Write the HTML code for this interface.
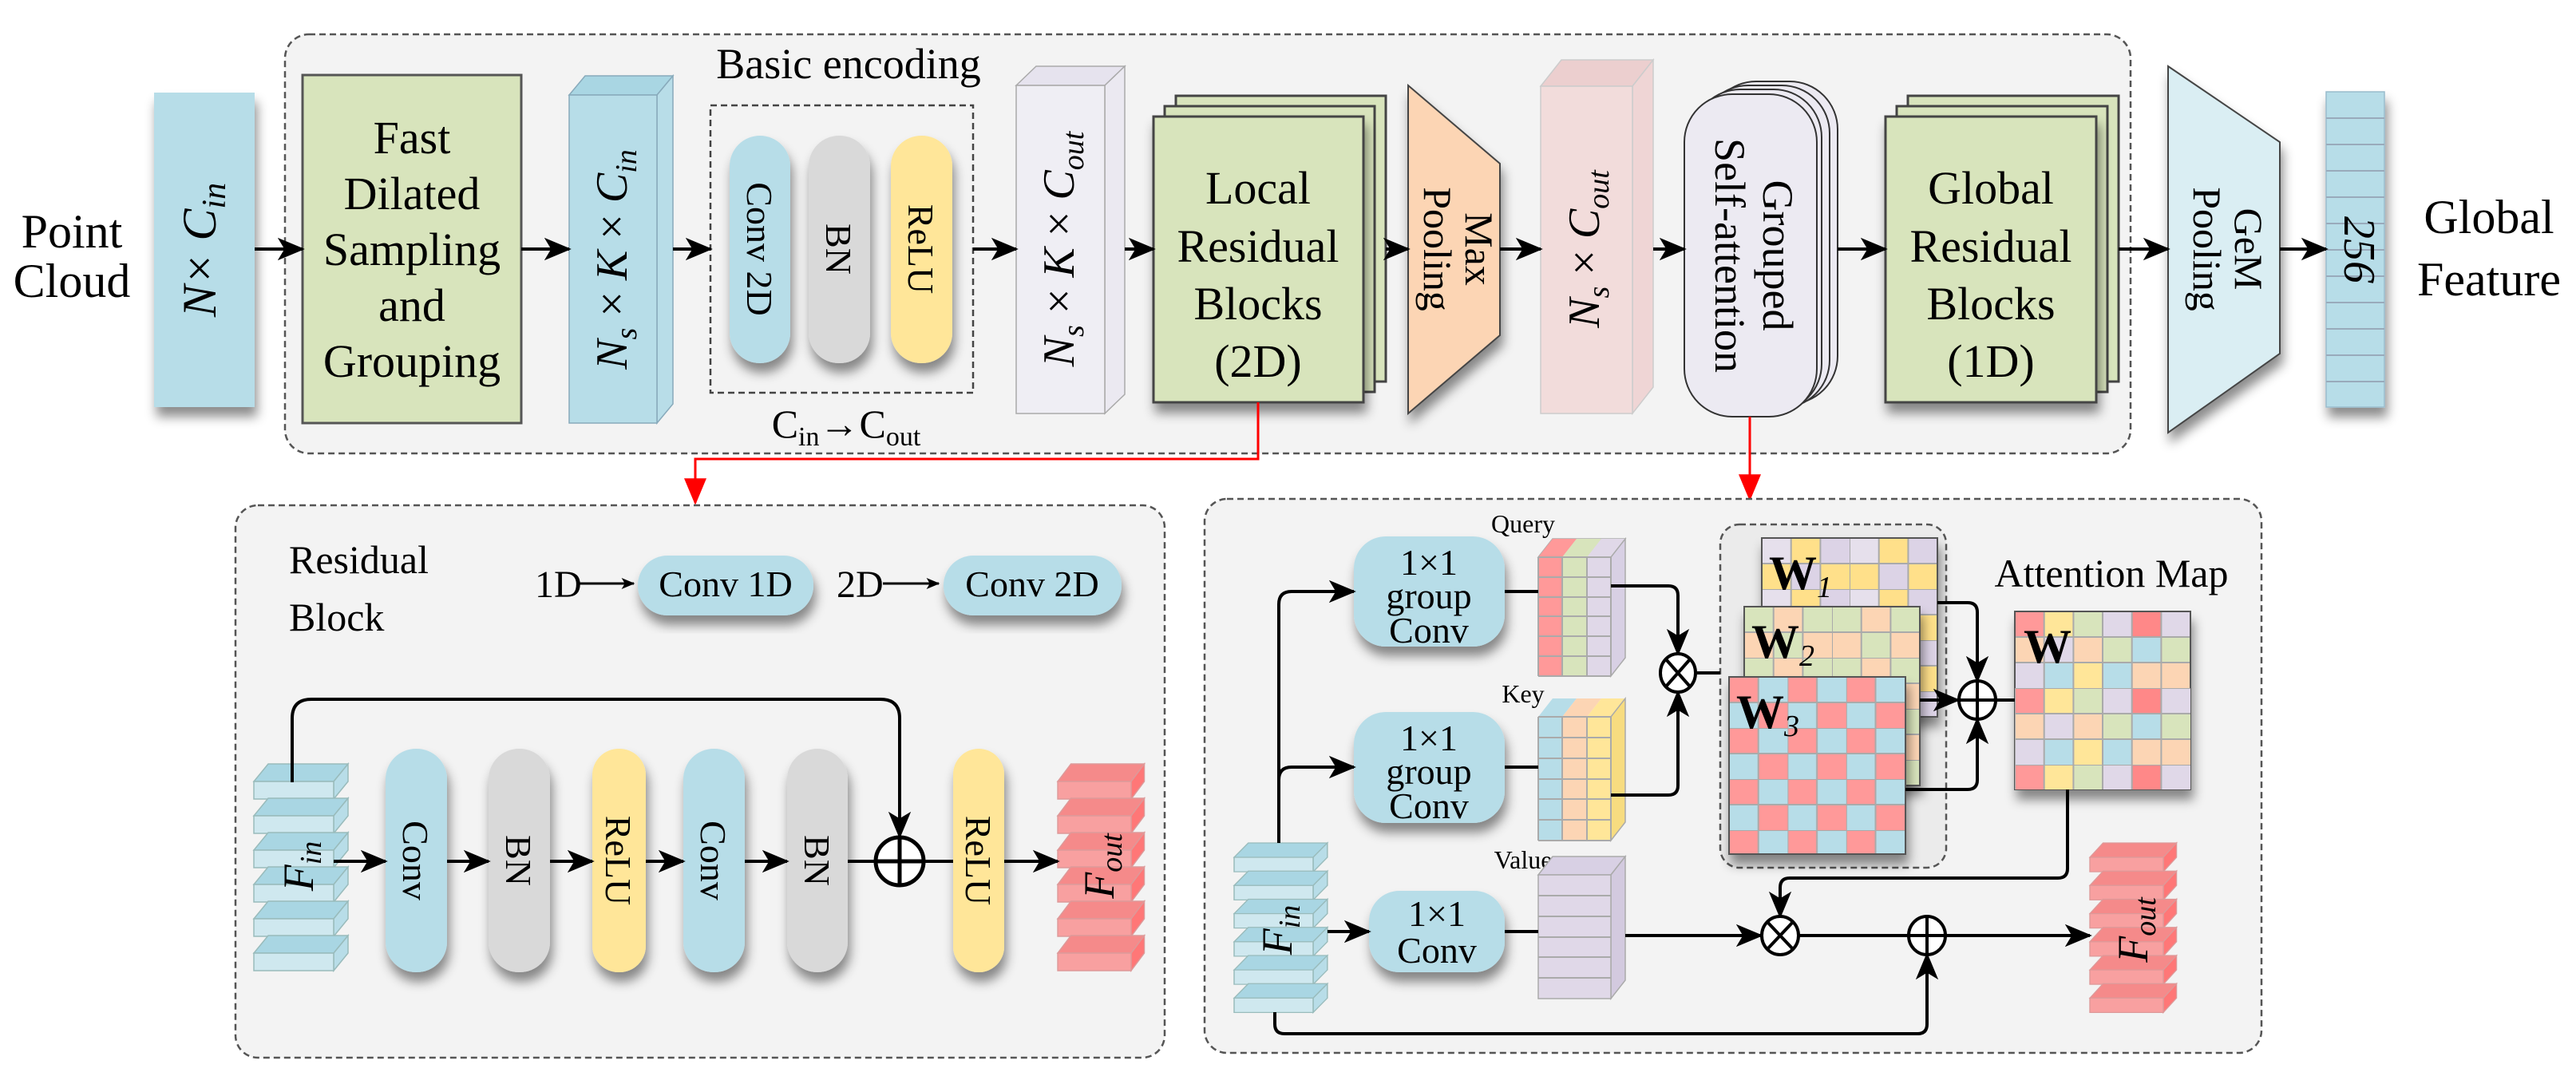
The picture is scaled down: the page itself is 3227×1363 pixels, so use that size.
<!DOCTYPE html>
<html><head><meta charset="utf-8"><style>
html,body{margin:0;padding:0;background:#fff;}
svg{display:block;}
svg text{font-family:"Liberation Serif","Times New Roman",serif;}
</style></head><body>
<svg width="3227" height="1363" viewBox="0 0 3227 1363" xmlns="http://www.w3.org/2000/svg" font-family="Liberation Serif, serif">
<style>text{font-family:"Liberation Serif","Times New Roman",serif;}</style>
<defs>
<filter id="sh" x="-30%" y="-30%" width="160%" height="160%"><feDropShadow dx="3" dy="12" stdDeviation="7" flood-color="#000" flood-opacity="0.45"/></filter>
<marker id="ar" viewBox="0 0 12 10" refX="11" refY="5" markerWidth="34" markerHeight="30" markerUnits="userSpaceOnUse" orient="auto"><path d="M0,0 L12,5 L0,10 L3,5 z" fill="#000"/></marker>
<marker id="ars" viewBox="0 0 12 10" refX="11" refY="5" markerWidth="24" markerHeight="14" markerUnits="userSpaceOnUse" orient="auto"><path d="M0,0 L12,5 L0,10 L3,5 z" fill="#000"/></marker>
<marker id="arr" viewBox="0 0 12 10" refX="11" refY="5" markerWidth="40" markerHeight="28" markerUnits="userSpaceOnUse" orient="auto"><path d="M0,0 L12,5 L0,10 z" fill="#f00"/></marker>
<g id="slabB">
 <polygon points="0,22 18,0 118,0 100,22" fill="#a9d6e3" stroke="#9bb" stroke-width="1.5"/>
 <polygon points="100,22 118,0 118,22 100,44" fill="#b8dde8" stroke="#9bb" stroke-width="1.5"/>
 <rect x="0" y="22" width="100" height="22" fill="#cfe8ef" stroke="#9bb" stroke-width="1.5"/>
</g>
<g id="stackB">
 <use href="#slabB"/><use href="#slabB" y="43"/><use href="#slabB" y="86"/><use href="#slabB" y="129"/><use href="#slabB" y="172"/><use href="#slabB" y="215"/>
</g>
<g id="slabR">
 <polygon points="0,22 18,0 118,0 100,22" fill="#f58a8a" stroke="#d99" stroke-width="1.5"/>
 <polygon points="100,22 118,0 118,22 100,44" fill="#f77" stroke="#d99" stroke-width="1.5"/>
 <rect x="0" y="22" width="100" height="22" fill="#f8a0a0" stroke="#d99" stroke-width="1.5"/>
</g>
<g id="stackR">
 <use href="#slabR"/><use href="#slabR" y="43"/><use href="#slabR" y="86"/><use href="#slabR" y="129"/><use href="#slabR" y="172"/><use href="#slabR" y="215"/>
</g>
<pattern id="p1" patternUnits="userSpaceOnUse" x="2207" y="674" width="110" height="64">
 <rect width="36.7" height="32" fill="#e6e0ec"/><rect x="36.7" width="36.7" height="32" fill="#ffe08a"/><rect x="73.4" width="36.6" height="32" fill="#dcd3e6"/>
 <rect y="32" width="36.7" height="32" fill="#ffe08a"/><rect x="36.7" y="32" width="36.7" height="32" fill="#dcd3e6"/><rect x="73.4" y="32" width="36.6" height="32" fill="#ffe08a"/>
 <path d="M0,0H110M0,32H110M0,0V64M36.7,0V64M73.4,0V64" stroke="#aaa" stroke-width="2" fill="none"/>
</pattern>
<pattern id="p2" patternUnits="userSpaceOnUse" x="2185" y="760" width="110" height="64">
 <rect width="36.7" height="32" fill="#d8e4bc"/><rect x="36.7" width="36.7" height="32" fill="#fcd5b4"/><rect x="73.4" width="36.6" height="32" fill="#d8e4bc"/>
 <rect y="32" width="36.7" height="32" fill="#fcd5b4"/><rect x="36.7" y="32" width="36.7" height="32" fill="#d8e4bc"/><rect x="73.4" y="32" width="36.6" height="32" fill="#fcd5b4"/>
 <path d="M0,0H110M0,32H110M0,0V64M36.7,0V64M73.4,0V64" stroke="#aaa" stroke-width="2" fill="none"/>
</pattern>
<pattern id="p3" patternUnits="userSpaceOnUse" x="2166" y="848" width="73.4" height="64">
 <rect width="36.7" height="32" fill="#f99"/><rect x="36.7" width="36.7" height="32" fill="#b7dde8"/>
 <rect y="32" width="36.7" height="32" fill="#b7dde8"/><rect x="36.7" y="32" width="36.7" height="32" fill="#f99"/>
 <path d="M0,0H73.4M0,32H73.4M0,0V64M36.7,0V64" stroke="#aaa" stroke-width="2" fill="none"/>
</pattern>
<pattern id="pw" patternUnits="userSpaceOnUse" x="2524" y="766" width="220" height="96">
 <rect width="36.7" height="32" fill="#f99"/><rect x="36.7" width="36.7" height="32" fill="#ffe699"/><rect x="73.4" width="36.7" height="32" fill="#d8e4bc"/><rect x="110" width="36.7" height="32" fill="#e0d8e8"/><rect x="146.7" width="36.7" height="32" fill="#f88"/><rect x="183.4" width="36.6" height="32" fill="#e0d8e8"/>
 <rect y="32" width="36.7" height="32" fill="#fcd5b4"/><rect x="36.7" y="32" width="36.7" height="32" fill="#e0d8e8"/><rect x="73.4" y="32" width="36.7" height="32" fill="#fcd5b4"/><rect x="110" y="32" width="36.7" height="32" fill="#d8e4bc"/><rect x="146.7" y="32" width="36.7" height="32" fill="#b7dde8"/><rect x="183.4" y="32" width="36.6" height="32" fill="#d8e4bc"/>
 <rect y="64" width="36.7" height="32" fill="#e0d8e8"/><rect x="36.7" y="64" width="36.7" height="32" fill="#b7dde8"/><rect x="73.4" y="64" width="36.7" height="32" fill="#ffe699"/><rect x="110" y="64" width="36.7" height="32" fill="#b7dde8"/><rect x="146.7" y="64" width="36.7" height="32" fill="#fcd5b4"/><rect x="183.4" y="64" width="36.6" height="32" fill="#fcd5b4"/>
 <path d="M0,0H220M0,32H220M0,64H220M0,0V96M36.7,0V96M73.4,0V96M110,0V96M146.7,0V96M183.4,0V96" stroke="#aaa" stroke-width="2" fill="none"/>
</pattern>
</defs>

<!-- ===== top panel ===== -->
<rect x="357" y="43" width="2312" height="525" rx="30" fill="#f3f3f3" stroke="#555" stroke-width="2.5" stroke-dasharray="8,5"/>
<text x="90" y="310" font-size="60" text-anchor="middle">Point</text>
<text x="90" y="372" font-size="60" text-anchor="middle">Cloud</text>
<rect x="193" y="116" width="126" height="394" fill="#b7dde8" filter="url(#sh)"/>
<text transform="translate(270,313) rotate(-90)" font-size="60" text-anchor="middle" font-style="italic">N× C<tspan font-size="42" dy="12">in</tspan></text>

<rect x="379" y="94" width="274" height="436" fill="#d8e4bc" stroke="#555" stroke-width="3"/>
<g font-size="58" text-anchor="middle"><text x="516" y="192">Fast</text><text x="516" y="262">Dilated</text><text x="516" y="332">Sampling</text><text x="516" y="402">and</text><text x="516" y="472">Grouping</text></g>

<polygon points="713,119 733,95 843,95 823,119" fill="#a9d6e3" stroke="#8ab" stroke-width="1.5"/>
<polygon points="823,119 843,95 843,506 823,530" fill="#b8dde8" stroke="#8ab" stroke-width="1.5"/>
<rect x="713" y="119" width="110" height="411" fill="#b7dde8" stroke="#8ab" stroke-width="1.5"/>
<text transform="translate(785,325) rotate(-90)" font-size="56" text-anchor="middle" font-style="italic">N<tspan font-size="38" dy="12">s</tspan><tspan dy="-12" font-style="normal"> × </tspan>K<tspan font-style="normal"> × </tspan>C<tspan font-size="38" dy="12">in</tspan></text>

<text x="1063" y="98" font-size="54" text-anchor="middle">Basic encoding</text>
<rect x="890" y="132" width="329" height="360" fill="none" stroke="#444" stroke-width="2.5" stroke-dasharray="8,5"/>
<rect x="914" y="170" width="76" height="285" rx="38" fill="#b7dde8" filter="url(#sh)"/>
<rect x="1013" y="170" width="77" height="285" rx="38" fill="#d9d9d9" filter="url(#sh)"/>
<rect x="1116" y="170" width="77" height="285" rx="38" fill="#ffe699" filter="url(#sh)"/>
<g font-size="46" text-anchor="middle"><text transform="translate(936,312) rotate(90)">Conv 2D</text><text transform="translate(1035,312) rotate(90)">BN</text><text transform="translate(1138,312) rotate(90)">ReLU</text></g>
<text x="1060" y="548" font-size="50" text-anchor="middle">C<tspan font-size="34" dy="10">in</tspan><tspan dy="-10">→</tspan>C<tspan font-size="34" dy="10">out</tspan></text>

<polygon points="1273,107 1298,83 1409,83 1384,107" fill="#e6e3ee" stroke="#aaa" stroke-width="1.5"/>
<polygon points="1384,107 1409,83 1409,494 1384,518" fill="#ebe9f1" stroke="#aaa" stroke-width="1.5"/>
<rect x="1273" y="107" width="111" height="411" fill="#efeef4" stroke="#aaa" stroke-width="1.5"/>
<text transform="translate(1345,312) rotate(-90)" font-size="56" text-anchor="middle" font-style="italic">N<tspan font-size="38" dy="12">s</tspan><tspan dy="-12" font-style="normal"> × </tspan>K<tspan font-style="normal"> × </tspan>C<tspan font-size="38" dy="12">out</tspan></text>

<rect x="1473" y="120" width="263" height="358" fill="#d8e4bc" stroke="#444" stroke-width="3"/>
<rect x="1459" y="133" width="263" height="358" fill="#d8e4bc" stroke="#444" stroke-width="3"/>
<rect x="1445" y="146" width="263" height="358" fill="#d8e4bc" stroke="#444" stroke-width="3" filter="url(#sh)"/>
<g font-size="58" text-anchor="middle"><text x="1576" y="255">Local</text><text x="1576" y="328">Residual</text><text x="1576" y="400">Blocks</text><text x="1576" y="472">(2D)</text></g>

<polygon points="1764,107 1879,205 1879,420 1764,518" fill="#fcd5b4" stroke="#444" stroke-width="2" filter="url(#sh)"/>
<text transform="translate(1822,312) rotate(90)" font-size="50" text-anchor="middle"><tspan x="0" dy="-14">Max</tspan><tspan x="0" dy="52">Pooling</tspan></text>

<polygon points="1930,108 1956,75 2071,75 2045,108" fill="#eccfcf" stroke="#ccc" stroke-width="1.5"/>
<polygon points="2045,108 2071,75 2071,485 2045,518" fill="#efd5d5" stroke="#ccc" stroke-width="1.5"/>
<rect x="1930" y="108" width="115" height="410" fill="#f2dcdb" stroke="#ccc" stroke-width="1.5"/>
<text transform="translate(2003,312) rotate(-90)" font-size="56" text-anchor="middle" font-style="italic">N<tspan font-size="38" dy="12">s</tspan><tspan dy="-12" font-style="normal"> × </tspan>C<tspan font-size="38" dy="12">out</tspan></text>

<rect x="2140" y="102" width="162" height="404" rx="60" fill="#eceaf2" stroke="#333" stroke-width="2"/>
<rect x="2130" y="107" width="162" height="404" rx="60" fill="#eceaf2" stroke="#333" stroke-width="2"/>
<rect x="2120" y="112" width="162" height="404" rx="60" fill="#eceaf2" stroke="#333" stroke-width="2"/>
<rect x="2110" y="118" width="166" height="404" rx="60" fill="#eceaf2" stroke="#333" stroke-width="2"/>
<text transform="translate(2193,320) rotate(90)" font-size="54" text-anchor="middle"><tspan x="0" dy="-16">Grouped</tspan><tspan x="0" dy="60">Self-attention</tspan></text>

<rect x="2390" y="120" width="264" height="358" fill="#d8e4bc" stroke="#444" stroke-width="3"/>
<rect x="2376" y="133" width="264" height="358" fill="#d8e4bc" stroke="#444" stroke-width="3"/>
<rect x="2362" y="146" width="264" height="358" fill="#d8e4bc" stroke="#444" stroke-width="3" filter="url(#sh)"/>
<g font-size="58" text-anchor="middle"><text x="2494" y="255">Global</text><text x="2494" y="328">Residual</text><text x="2494" y="400">Blocks</text><text x="2494" y="472">(1D)</text></g>

<polygon points="2716,83 2856,178 2856,443 2716,542" fill="#daeef3" stroke="#444" stroke-width="2" filter="url(#sh)"/>
<text transform="translate(2786,312) rotate(90)" font-size="50" text-anchor="middle"><tspan x="0" dy="-14">GeM</tspan><tspan x="0" dy="52">Pooling</tspan></text>

<rect x="2914" y="115" width="73" height="395" fill="#b7dde8" stroke="#9bc" stroke-width="1.5" filter="url(#sh)"/>
<path d="M2914,148H2987M2914,181H2987M2914,214H2987M2914,247H2987M2914,280H2987M2914,313H2987M2914,346H2987M2914,379H2987M2914,412H2987M2914,445H2987M2914,478H2987" stroke="#9ab" stroke-width="2"/>
<text transform="translate(2937,313) rotate(90)" font-size="56" text-anchor="middle" font-style="italic">256</text>
<text x="3118" y="292" font-size="60" text-anchor="middle">Global</text>
<text x="3118" y="370" font-size="60" text-anchor="middle">Feature</text>

<g stroke="#000" stroke-width="4" marker-end="url(#ar)">
<line x1="319" y1="312" x2="379" y2="312"/><line x1="653" y1="312" x2="713" y2="312"/>
<line x1="843" y1="312" x2="890" y2="312"/><line x1="1219" y1="312" x2="1273" y2="312"/>
<line x1="1409" y1="312" x2="1445" y2="312"/><line x1="1736" y1="312" x2="1764" y2="312"/>
<line x1="1879" y1="312" x2="1930" y2="312"/><line x1="2071" y1="312" x2="2110" y2="312"/>
<line x1="2302" y1="312" x2="2362" y2="312"/><line x1="2654" y1="312" x2="2716" y2="312"/>
<line x1="2856" y1="312" x2="2914" y2="312"/>
</g>
<polyline points="1576,504 1576,575 871,575 871,630" fill="none" stroke="#f00" stroke-width="3" marker-end="url(#arr)"/>
<line x1="2192" y1="522" x2="2192" y2="625" stroke="#f00" stroke-width="3" marker-end="url(#arr)"/>

<!-- ===== bottom left panel ===== -->
<rect x="295" y="633" width="1164" height="692" rx="28" fill="#f3f3f3" stroke="#555" stroke-width="2.5" stroke-dasharray="8,5"/>
<text x="362" y="718" font-size="50">Residual</text>
<text x="362" y="790" font-size="50">Block</text>
<text x="670" y="748" font-size="48">1D</text>
<line x1="726" y1="731" x2="794" y2="731" stroke="#000" stroke-width="3" marker-end="url(#ars)"/>
<rect x="799" y="696" width="220" height="75" rx="37" fill="#b7dde8" filter="url(#sh)"/>
<text x="909" y="747" font-size="46" text-anchor="middle">Conv 1D</text>
<text x="1048" y="748" font-size="48">2D</text>
<line x1="1106" y1="731" x2="1176" y2="731" stroke="#000" stroke-width="3" marker-end="url(#ars)"/>
<rect x="1182" y="696" width="223" height="75" rx="37" fill="#b7dde8" filter="url(#sh)"/>
<text x="1293" y="747" font-size="46" text-anchor="middle">Conv 2D</text>

<use href="#stackB" x="318" y="957"/>
<text transform="translate(392,1085) rotate(-90)" font-size="54" text-anchor="middle" font-style="italic">F<tspan font-size="38" dy="10">in</tspan></text>
<g filter="url(#sh)">
<rect x="483" y="938" width="77" height="280" rx="38" fill="#b7dde8"/>
<rect x="612" y="938" width="77" height="280" rx="38" fill="#d9d9d9"/>
<rect x="742" y="938" width="67" height="280" rx="33" fill="#ffe699"/>
<rect x="856" y="938" width="77" height="280" rx="38" fill="#b7dde8"/>
<rect x="986" y="938" width="76" height="280" rx="38" fill="#d9d9d9"/>
<rect x="1194" y="938" width="64" height="280" rx="32" fill="#ffe699"/>
</g>
<g font-size="46" text-anchor="middle">
<text transform="translate(505,1078) rotate(90)">Conv</text><text transform="translate(634,1078) rotate(90)">BN</text>
<text transform="translate(759,1078) rotate(90)">ReLU</text><text transform="translate(878,1078) rotate(90)">Conv</text>
<text transform="translate(1008,1078) rotate(90)">BN</text><text transform="translate(1210,1078) rotate(90)">ReLU</text>
</g>
<use href="#stackR" transform="translate(1325,957) scale(0.92,1)"/>
<text transform="translate(1395,1085) rotate(-90)" font-size="54" text-anchor="middle" font-style="italic">F<tspan font-size="38" dy="10">out</tspan></text>
<path d="M366,980 V900 Q366,876 390,876 H1103 Q1127,876 1127,900 V1048" fill="none" stroke="#000" stroke-width="4" marker-end="url(#ar)"/>
<g stroke="#000" stroke-width="4" marker-end="url(#ar)">
<line x1="418" y1="1079" x2="483" y2="1079"/><line x1="560" y1="1079" x2="612" y2="1079"/>
<line x1="689" y1="1079" x2="742" y2="1079"/><line x1="809" y1="1079" x2="856" y2="1079"/>
<line x1="933" y1="1079" x2="986" y2="1079"/><line x1="1258" y1="1079" x2="1325" y2="1079"/>
</g>
<line x1="1062" y1="1079" x2="1194" y2="1079" stroke="#000" stroke-width="4"/>
<circle cx="1127" cy="1079" r="30" fill="#fff" stroke="#000" stroke-width="5"/>
<path d="M1097,1079H1157M1127,1049V1109" stroke="#000" stroke-width="5"/>

<!-- ===== bottom right panel ===== -->
<rect x="1509" y="625" width="1324" height="694" rx="28" fill="#f3f3f3" stroke="#555" stroke-width="2.5" stroke-dasharray="8,5"/>
<rect x="1696" y="672" width="189" height="138" rx="40" fill="#b7dde8" filter="url(#sh)"/>
<rect x="1696" y="892" width="189" height="139" rx="40" fill="#b7dde8" filter="url(#sh)"/>
<g font-size="46" text-anchor="middle"><text x="1790" y="720">1×1</text><text x="1790" y="762">group</text><text x="1790" y="805">Conv</text>
<text x="1790" y="940">1×1</text><text x="1790" y="982">group</text><text x="1790" y="1025">Conv</text></g>
<rect x="1715" y="1116" width="170" height="102" rx="38" fill="#b7dde8" filter="url(#sh)"/>
<g font-size="46" text-anchor="middle"><text x="1800" y="1160">1×1</text><text x="1800" y="1206">Conv</text></g>
<g font-size="32" text-anchor="middle"><text x="1908" y="667">Query</text><text x="1908" y="880">Key</text><text x="1908" y="1088">Value</text></g>

<polygon points="1927,698 1945,675 2036,675 2018,698" fill="#e0e0d0" stroke="#aaa" stroke-width="1.5"/>
<polygon points="1927,698 1945,675 1975,675 1957,698" fill="#f99"/><polygon points="1957,698 1975,675 2006,675 1988,698" fill="#d8e4bc"/><polygon points="1988,698 2006,675 2036,675 2018,698" fill="#e0d8e8"/>
<polygon points="2018,698 2036,675 2036,824 2018,847" fill="#d8d0e4" stroke="#aaa" stroke-width="1.5"/>
<rect x="1927" y="698" width="30" height="149" fill="#f99"/><rect x="1957" y="698" width="31" height="149" fill="#d8e4bc"/><rect x="1988" y="698" width="30" height="149" fill="#e0d8e8"/>
<path d="M1927,698H2018M1927,723H2018M1927,748H2018M1927,772H2018M1927,797H2018M1927,822H2018M1927,847H2018M1927,698V847M1957,698V847M1988,698V847M2018,698V847" stroke="#aaa" stroke-width="2" fill="none"/>
<polygon points="1927,898 1945,875 1975,875 1957,898" fill="#b7dde8"/><polygon points="1957,898 1975,875 2006,875 1988,898" fill="#fcd5b4"/><polygon points="1988,898 2006,875 2036,875 2018,898" fill="#ffe699"/>
<polygon points="2018,898 2036,875 2036,1030 2018,1053" fill="#f7dc80" stroke="#aaa" stroke-width="1.5"/>
<rect x="1927" y="898" width="30" height="155" fill="#b7dde8"/><rect x="1957" y="898" width="31" height="155" fill="#fcd5b4"/><rect x="1988" y="898" width="30" height="155" fill="#ffe699"/>
<path d="M1927,898H2018M1927,924H2018M1927,950H2018M1927,976H2018M1927,1001H2018M1927,1027H2018M1927,1053H2018M1927,898V1053M1957,898V1053M1988,898V1053M2018,898V1053" stroke="#aaa" stroke-width="2" fill="none"/>
<polygon points="1927,1096 1945,1073 2036,1073 2018,1096" fill="#d8d0e4" stroke="#aaa" stroke-width="1.5"/>
<polygon points="2018,1096 2036,1073 2036,1228 2018,1251" fill="#d3cadf" stroke="#aaa" stroke-width="1.5"/>
<rect x="1927" y="1096" width="91" height="155" fill="#e0d8e8" stroke="#aaa" stroke-width="1.5"/>
<path d="M1927,1122H2018M1927,1148H2018M1927,1174H2018M1927,1199H2018M1927,1225H2018" stroke="#aaa" stroke-width="2"/>

<rect x="2155" y="657" width="283" height="430" rx="24" fill="#ebebeb" stroke="#555" stroke-width="2.5" stroke-dasharray="8,5"/>
<rect x="2207" y="674" width="220" height="224" fill="url(#p1)" stroke="#555" stroke-width="2" filter="url(#sh)"/>
<rect x="2185" y="760" width="220" height="224" fill="url(#p2)" stroke="#555" stroke-width="2" filter="url(#sh)"/>
<rect x="2166" y="848" width="221" height="222" fill="url(#p3)" stroke="#555" stroke-width="2" filter="url(#sh)"/>
<g font-weight="bold" font-size="60"><text x="2216" y="738">W<tspan font-size="38" font-style="italic" font-weight="normal" dy="10">1</tspan></text>
<text x="2194" y="824">W<tspan font-size="38" font-style="italic" font-weight="normal" dy="10">2</tspan></text>
<text x="2175" y="912">W<tspan font-size="38" font-style="italic" font-weight="normal" dy="10">3</tspan></text></g>
<text x="2645" y="735" font-size="50" text-anchor="middle">Attention Map</text>
<rect x="2524" y="766" width="220" height="223" fill="url(#pw)" stroke="#555" stroke-width="2" filter="url(#sh)"/>
<rect x="2524" y="862" width="220" height="127" fill="url(#pw)"/>
<text x="2535" y="830" font-size="60" font-weight="bold">W</text>

<use href="#stackB" transform="translate(1546,1056) scale(0.99,0.82)"/>
<text transform="translate(1618,1165) rotate(-90)" font-size="54" text-anchor="middle" font-style="italic">F<tspan font-size="38" dy="10">in</tspan></text>
<use href="#stackR" transform="translate(2618,1056) scale(0.92,0.82)"/>
<text transform="translate(2690,1165) rotate(-90)" font-size="54" text-anchor="middle" font-style="italic">F<tspan font-size="38" dy="10">out</tspan></text>

<g fill="none" stroke="#000" stroke-width="4">
<path d="M1602,1056 V757 Q1602,741 1618,741 H1696" marker-end="url(#ar)"/>
<path d="M1602,977 Q1602,961 1618,961 H1696" marker-end="url(#ar)"/>
<line x1="1663" y1="1167" x2="1715" y2="1167" marker-end="url(#ar)"/>
<line x1="1885" y1="741" x2="1927" y2="741"/><line x1="1885" y1="961" x2="1927" y2="961"/><line x1="1885" y1="1167" x2="1927" y2="1167"/>
<path d="M2018,734 H2090 Q2102,734 2102,746 V819" marker-end="url(#ar)"/>
<path d="M2018,996 H2090 Q2102,996 2102,984 V867" marker-end="url(#ar)"/>
<line x1="2126" y1="843" x2="2155" y2="843"/>
<path d="M2427,755 H2465 Q2477,755 2477,767 V853" marker-end="url(#ar)"/>
<path d="M2387,989 H2465 Q2477,989 2477,977 V901" marker-end="url(#ar)"/>
<line x1="2405" y1="877" x2="2453" y2="877" marker-end="url(#ar)"/>
<line x1="2501" y1="877" x2="2524" y2="877"/>
<path d="M2590,989 V1088 Q2590,1100 2578,1100 H2242 Q2230,1100 2230,1112 V1148" marker-end="url(#ar)"/>
<line x1="2036" y1="1172" x2="2206" y2="1172" marker-end="url(#ar)"/>
<line x1="2254" y1="1172" x2="2618" y2="1172" marker-end="url(#ar)"/>
<path d="M1597,1268 V1283 Q1597,1295 1609,1295 H2402 Q2414,1295 2414,1283 V1196" marker-end="url(#ar)"/>
</g>
<g stroke="#000" stroke-width="4" fill="#fff">
<ellipse cx="2102" cy="843" rx="22" ry="24"/><path d="M2087,826L2117,860M2117,826L2087,860" fill="none"/>
<ellipse cx="2477" cy="877" rx="23" ry="24"/><path d="M2454,877H2500M2477,853V901" fill="none"/>
<ellipse cx="2230" cy="1172" rx="23" ry="24"/><path d="M2214,1155L2246,1189M2246,1155L2214,1189" fill="none"/>
<ellipse cx="2414" cy="1172" rx="23" ry="24"/><path d="M2391,1172H2437M2414,1148V1196" fill="none"/>
</g>
</svg>
</body></html>
